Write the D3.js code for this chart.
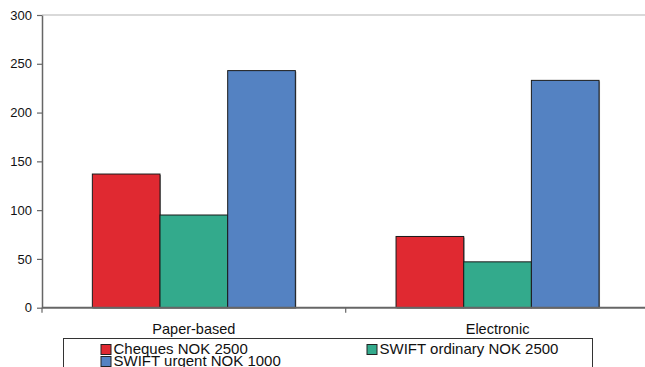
<!DOCTYPE html>
<html><head><meta charset="utf-8">
<script src="https://cdn.jsdelivr.net/npm/d3@7"></script>
<style>body{margin:0;background:#fff}svg{display:block;font-family:"Liberation Sans",Arial,sans-serif}</style>
</head><body>
<svg id="c" width="645" height="367"></svg>
<script>
const categories = ["Paper-based", "Electronic"];
const seriesNames = ["Cheques NOK 2500", "SWIFT ordinary NOK 2500", "SWIFT urgent NOK 1000"];
const cheques = [137, 73];
const swiftOrdinary = [95, 47];
const swiftUrgent = [243, 233];
const yTicks = [0, 50, 100, 150, 200, 250, 300];
const colors = ["#E02931", "#33AA8C", "#5482C2"];

const values = [cheques, swiftOrdinary, swiftUrgent];
const svg = d3.select("#c");
const pLeft = 42, pRight = 649.4, pTop = 15, pBottom = 307.7;

const x0 = d3.scaleBand().domain(categories).range([pLeft, pRight]).padding(0);
const x1 = d3.scaleBand().domain(seriesNames).range([0, x0.bandwidth()]).paddingInner(0).paddingOuter(0.744);
const y = d3.scaleLinear().domain([0, 300]).range([pBottom, pTop]);

// top gridline
svg.append("line").attr("x1", pLeft).attr("x2", 645).attr("y1", y(300)).attr("y2", y(300))
  .attr("stroke", "#cccccc").attr("stroke-width", 1.5);

// bars
categories.forEach((c, ci) => {
  seriesNames.forEach((s, si) => {
    const v = values[si][ci];
    const bx = x0(c) + x1(s);
    svg.append("rect").attr("x", bx + 1).attr("y", y(v) + 1).attr("width", x1.bandwidth()).attr("height", pBottom - y(v))
      .attr("fill", "#9a9a9a");
    svg.append("rect").attr("x", bx).attr("y", y(v)).attr("width", x1.bandwidth()).attr("height", pBottom - y(v))
      .attr("fill", colors[si]).attr("stroke", "#1a1a1a").attr("stroke-width", 1);
  });
});

// y axis
const ya = svg.append("g").attr("transform", `translate(${pLeft},0)`)
  .call(d3.axisLeft(y).tickValues(yTicks).tickSize(5).tickPadding(5).tickSizeOuter(0));
ya.select(".domain").attr("stroke", "#666").attr("stroke-width", 1.5);
ya.selectAll(".tick line").attr("stroke", "#666").attr("stroke-width", 1.2);
ya.selectAll(".tick text").attr("font-size", 13).attr("fill", "#111").attr("font-family", "Liberation Sans, Arial, sans-serif");

// x axis
const xa = svg.append("g").attr("transform", `translate(0,${pBottom})`)
  .call(d3.axisBottom(x0).tickSize(0).tickPadding(16));
xa.select(".domain").attr("d", `M${pLeft},0H645`).attr("stroke", "#666").attr("stroke-width", 2);
xa.selectAll(".tick text").attr("font-size", 14.5).attr("fill", "#111").attr("font-family", "Liberation Sans, Arial, sans-serif");
// category boundary ticks
const bounds = [pLeft, x0(categories[1]), pRight];
svg.selectAll(".bt").data(bounds).enter().append("line")
  .attr("x1", d => d).attr("x2", d => d).attr("y1", pBottom).attr("y2", pBottom + 5)
  .attr("stroke", "#666").attr("stroke-width", 1.2);

// legend
svg.append("rect").attr("x", 63.5).attr("y", 338.5).attr("width", 529).attr("height", 60)
  .attr("fill", "#fff").attr("stroke", "#333").attr("stroke-width", 1);
const legPos = [[101, 344.5], [367, 344.5], [101, 356.5]];
seriesNames.forEach((s, i) => {
  const [lx, ly] = legPos[i];
  svg.append("rect").attr("x", lx).attr("y", ly).attr("width", 10).attr("height", 10)
    .attr("fill", colors[i]).attr("stroke", "#222").attr("stroke-width", 1);
  svg.append("text").attr("x", lx + 12.5).attr("y", ly + 9.5).attr("font-size", 15).attr("fill", "#111")
    .text(s);
});
</script>
</body></html>
